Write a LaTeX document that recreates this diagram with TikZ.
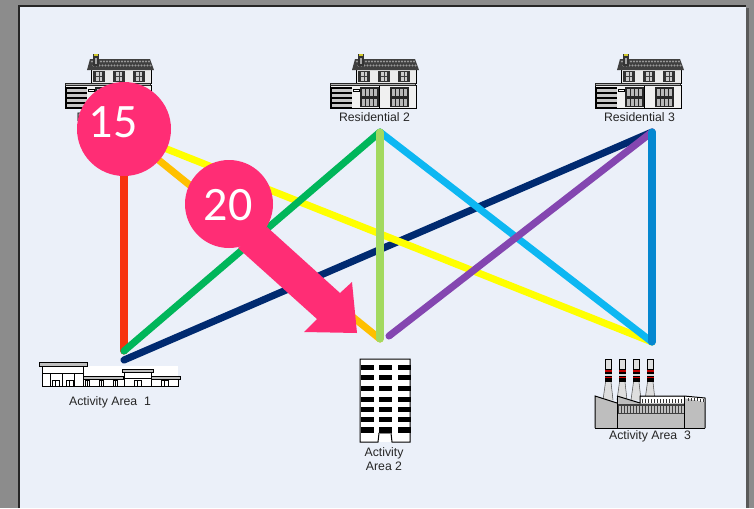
\documentclass[tikz,border=0pt]{standalone}
\usepackage{fontspec}
\setmainfont{Liberation Sans}
\newfontfamily\calloutfont{Carlito}
\definecolor{pagegrey}{HTML}{8C8C8C}
\definecolor{paper}{HTML}{EBF0F9}
\definecolor{callout}{HTML}{FF2D75}
\definecolor{lred}{HTML}{F7330F}
\definecolor{lorange}{HTML}{FFC000}
\definecolor{lyellow}{HTML}{FFFF00}
\definecolor{lgreen}{HTML}{00B65A}
\definecolor{llime}{HTML}{A2D95F}
\definecolor{lcyan}{HTML}{0DB7F2}
\definecolor{lnavy}{HTML}{002A70}
\definecolor{lpurple}{HTML}{8446B0}
\definecolor{lblue}{HTML}{0487D0}
\definecolor{bgrey}{HTML}{BEBEBE}
\tikzset{
  x=0.75pt,y=-0.75pt,
  link/.style={line width=5.3pt,line cap=round},
  lbl/.style={font=\fontsize{9.2pt}{10.6pt}\selectfont,text=black!85,inner sep=0pt,align=center},
  bubble/.style={circle,fill=callout,inner sep=0pt},
  bubbletext/.style={text=white,inner sep=0pt,font=\calloutfont\fontsize{36pt}{36pt}\selectfont},
  ink/.style={draw=black,line width=0.75pt},
  thin ink/.style={draw=black,line width=0.45pt},
  pics/house/.style={code={
    % upper wall
    \fill[white!92!black] (26,17) rectangle (86,31);
    \draw[thin ink] (26,17) rectangle (86,31);
    % roof
    \fill[black!75] (22,18) -- (25,7) -- (85,7) -- (89,18) -- cycle;
    \foreach \i in {0,...,19}{\fill[white!60!black] (27+\i*3,9.5) circle (0.85pt);\fill[white!60!black] (28.5+\i*3,13.5) circle (0.85pt);}
    % chimney
    \fill[black!80] (28,2) rectangle (34,14);
    \fill[yellow!80!black] (29.2,2.4) rectangle (32.8,4.2);
    \fill[white!65!black] (30,6) rectangle (32,12);
    % upper windows
    \foreach \xx in {31,51,71}{
      \fill[black!80] (\xx-3,19) rectangle (\xx+9,30);
      \fill[white!80!black] (\xx,20) rectangle (\xx+6,29);
      \draw[black!75,line width=0.5pt] (\xx+3,20) -- (\xx+3,29) (\xx,24.5) -- (\xx+6,24.5);
    }
    % lower block
    \fill[white!94!black] (0,31) rectangle (86,56);
    \draw[ink] (0,33) rectangle (86,56);
    \fill[black!85] (0,31) rectangle (86,34);
    \fill[white!70!black] (1,32) rectangle (85,33);
    % garage
    \fill[black] (1,35) rectangle (22,56);
    \foreach \yy in {37,42,47,52}{\fill[white!78!black] (2,\yy) rectangle (22,\yy+3);}
    \fill[white] (23,37) rectangle (29,39);
    \draw[thin ink] (23,37) rectangle (29,39);
    \draw[ink] (49,34) -- (49,56);
    % windows
    \foreach \xx in {30,60}{
      \fill[black!85] (\xx,35) rectangle (\xx+19,55);
      \foreach \cc in {0,1,2,3}{
        \fill[white!72!black] (\xx+1.5+\cc*4.2,37) rectangle (\xx+4.8+\cc*4.2,44);
        \fill[white!72!black] (\xx+1.5+\cc*4.2,47) rectangle (\xx+4.8+\cc*4.2,54);
      }
    }
  }},
}
\begin{document}
\begin{tikzpicture}
\useasboundingbox (0,0) rectangle (754,508);
\fill[pagegrey] (0,0) rectangle (754,508);
\fill[black!65] (21,8) rectangle (749,508);
\fill[paper] (19,6) rectangle (746,508);
\draw[black!85,line width=1pt] (19,508) -- (19,6) -- (746,6);

% hubs
\coordinate (r1) at (124,132);
\coordinate (r2) at (380,132);
\coordinate (r3) at (652,132);
\coordinate (a1) at (124,351);
\coordinate (a1b) at (124,360);
\coordinate (a2) at (380,339);
\coordinate (a2b) at (389,336);
\coordinate (a3) at (652,342);

% buildings: residential
\pic at (65,52) {house};
\pic at (330,52) {house};
\pic at (595,52) {house};
\node[lbl] (t1) at (112,117) {Residential 1};
\node[lbl] (t2) at (374.5,117) {Residential 2};
\node[lbl] (t3) at (639.5,117) {Residential 3};

% connectors
\draw[link,lred] (r1) -- (a1);
\draw[link,lorange] (r1) -- (a2);
\draw[link,lnavy] (r3) -- (a1b);
\draw[link,lyellow] (r1) -- (a3);
\draw[link,lgreen] (r2) -- (a1);
\draw[link,lcyan] (r2) -- (a3);
\draw[link,llime] (r2) -- (a2);
\draw[link,lpurple] (r3) -- (a2b);
\draw[link,lblue] (r3) -- (a3);

% activity area 1
\fill[white] (42,366) rectangle (178,386);
\fill[bgrey] (39,362) rectangle (87,366);
\draw[ink] (39,362) rectangle (87,366);
\draw[ink] (42,366) -- (42,386) -- (178,386) -- (178,379);
\draw[ink] (83,366) -- (83,386);
\draw[ink] (42,373) -- (83,373);
\foreach \xx in {50,62,74}{\draw[thin ink] (\xx,373) -- (\xx,386);}
\fill[bgrey] (83,376) rectangle (123,379);
\draw[ink] (83,376) rectangle (123,379);
\fill[bgrey] (122,369) rectangle (153,372.5);
\draw[ink] (122,369) rectangle (153,372.5);
\draw[ink] (124,372.5) -- (124,386);
\draw[ink] (151,372.5) -- (151,386);
\draw[ink] (124,378) -- (151,378);
\fill[bgrey] (151,376) rectangle (180,379);
\draw[ink] (151,376) rectangle (180,379);
\foreach \xx/\ww in {52/7,66/7,85/4,99/4,113/4,134/7,161/7}{
  \draw[ink] (\xx,380) rectangle (\xx+\ww,386);
  \draw[thin ink] (\xx+\ww/2,380) -- (\xx+\ww/2,386);
}
\node[lbl] (t4) at (110,402) {Activity Area\ \ 1};

% activity area 2
\fill[white] (360,359) rectangle (410,442);
\draw[ink] (360,359) -- (410,359) -- (410,442) -- (392,442) -- (391,433) -- (379,433) -- (378,442) -- (360,442) -- cycle;
\fill[bgrey!70!black] (379,433) rectangle (391,434);
\foreach \yy/\hh in {365/5,375/5,386/5,397/4.5,407/5,417/5,427/5.5}{
  \foreach \xx in {361,379,398}{
    \fill[black] (\xx,\yy) rectangle (\xx+13,\yy+\hh);
  }
}
\node[lbl] (t5) at (384,459) {Activity\\Area 2};

% activity area 3
\foreach \xx in {605,619,633,647}{
  \fill[black!13] (\xx-2,400) -- (\xx+0.5,382) -- (\xx+0.5,359) -- (\xx+6,359) -- (\xx+6,382) -- (\xx+8,400) -- cycle;
  \draw[black!70,line width=0.4pt] (\xx-2,400) -- (\xx+0.5,382) (\xx+6,382) -- (\xx+8,400);
  \draw[thin ink] (\xx+0.5,369) -- (\xx+0.5,359) -- (\xx+6,359) -- (\xx+6,369);
  \fill[black] (\xx,369) rectangle (\xx+6.5,381.5);
  \fill[red!75!black] (\xx,370) rectangle (\xx+6.5,372);
  \fill[white!85!black] (\xx,373.5) rectangle (\xx+6.5,375.5);
  \fill[red!85!black] (\xx,376.5) rectangle (\xx+6.5,378);
}
\fill[bgrey] (595,396) -- (617,403) -- (617,428) -- (595,428) -- cycle;
\draw[ink] (595,428) -- (595,396) -- (617,403);
\fill[bgrey] (617,396) -- (640,403) -- (640,396) -- (684,396) -- (684,428) -- (617,428) -- cycle;
\fill[white] (640,397) rectangle (684,403);
\draw[ink] (617,396) -- (640,403) -- (640,396) -- (684,396);
\draw[ink] (617,396) -- (617,428);
\fill[black!75] (618,404) rectangle (684,414);
\foreach \i in {0,...,21}{\fill[white!75!black] (619+\i*3,405.5) rectangle (620.5+\i*3,412.5);}
\foreach \i in {0,...,14}{\fill[black!80] (642+\i*3,399) rectangle (643+\i*3,403);}
\fill[bgrey] (684,398) -- (705,402) -- (705,428) -- (684,428) -- cycle;
\fill[white] (684,396) -- (705,398) -- (705,402) -- (684,398) -- cycle;
\foreach \i in {0,...,5}{\fill[black!80] (688+\i*3,397.5+\i*0.3) rectangle (689+\i*3,400.5+\i*0.3);}
\draw[ink] (684,396) -- (705,398) -- (705,402) -- (705,428);
\draw[ink] (684,396) -- (684,428);
\draw[ink] (595,428) -- (705,428);
\node[lbl] (t6) at (650,436) {Activity Area\ \ 3};

% callouts
\node[bubble,minimum size=70.5pt] (c15) at (124,129) {};
\node[bubbletext] (n15) at (113,122) {15};
\node[bubble,minimum size=66pt] (c20) at (229,204) {};
\node[bubbletext] (n20) at (228,205) {20};
\fill[callout] (267,227) -- (340,293) -- (352,282) -- (357,333) -- (304,332) -- (317,319) -- (238,248) -- cycle;
\end{tikzpicture}
\end{document}
